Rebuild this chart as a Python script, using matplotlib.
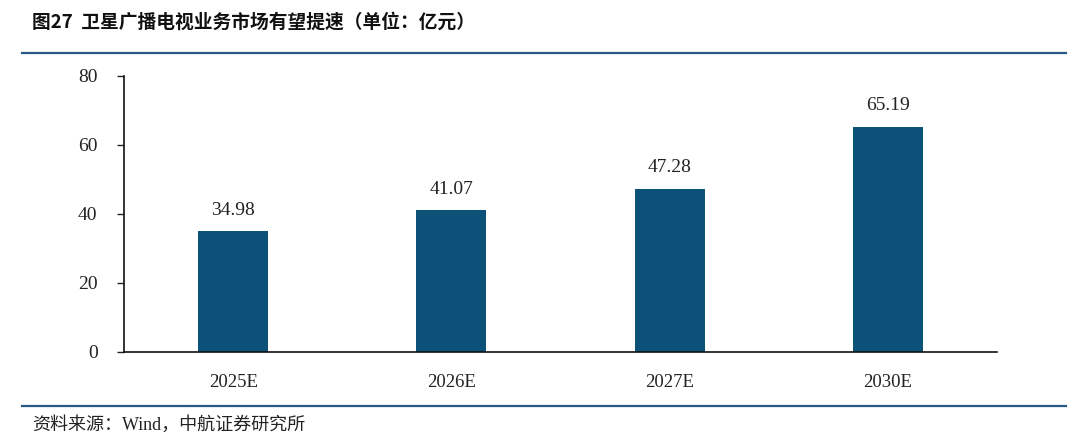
import matplotlib
matplotlib.use("Agg")
import matplotlib.pyplot as plt
from matplotlib.lines import Line2D

categories = ["2025E", "2026E", "2027E", "2030E"]
values = [34.98, 41.07, 47.28, 65.19]
yticks = [0, 20, 40, 60, 80]

title = "图27  卫星广播电视业务市场有望提速（单位：亿元）"
source = "资料来源：Wind，中航证券研究所"

num_font = ["Liberation Serif", "DejaVu Serif"]
cjk_font = ["Noto Sans CJK SC", "DejaVu Sans"]
mixed_font = ["Liberation Serif", "Noto Sans CJK SC", "DejaVu Sans"]

W, H = 1080, 445
fig = plt.figure(figsize=(W / 100, H / 100), dpi=100)
ax = fig.add_axes([124 / W, 1 - 352 / H, (997 - 124) / W, (352 - 75.7) / H])

bar_color = "#0b5178"
x = list(range(len(categories)))
bars = ax.bar(x, values, width=0.32, color=bar_color, zorder=2)

for xi, v in zip(x, values):
    ax.annotate(f"{v:.2f}", (xi, v), xytext=(0, 9), textcoords="offset points",
                ha="center", va="bottom", fontsize=14, family=num_font, color="#222222")

ax.set_xlim(-0.5, len(categories) - 0.5)
ax.set_ylim(0, 80)
ax.set_yticks(yticks)
ax.set_yticklabels([str(t) for t in yticks], family=num_font, fontsize=14, color="#222222")
ax.set_xticks(x)
ax.set_xticklabels(categories, family=num_font, fontsize=13.5, color="#222222")
ax.tick_params(axis="x", length=0, pad=16)
ax.tick_params(axis="y", length=5, width=1, direction="out", pad=14, colors="#222222")
for s in ["top", "right"]:
    ax.spines[s].set_visible(False)
for s in ["left", "bottom"]:
    ax.spines[s].set_color("#111111")
    ax.spines[s].set_linewidth(1.2)

# header and footer
fig.text(32 / W, 1 - 22 / H, title, fontsize=13.5, fontweight="bold", family=cjk_font,
         ha="left", va="center", color="#111111")
line_color = "#2a5a86"
fig.add_artist(Line2D([22 / W, 1066 / W], [1 - 52.5 / H, 1 - 52.5 / H], color=line_color, lw=1.6))
fig.add_artist(Line2D([22 / W, 1066 / W], [1 - 406 / H, 1 - 406 / H], color=line_color, lw=1.6))
fig.text(32 / W, 1 - 425 / H, source, fontsize=13, family=mixed_font,
         ha="left", va="center", color="#222222")

fig.savefig("out.png", dpi=100)
